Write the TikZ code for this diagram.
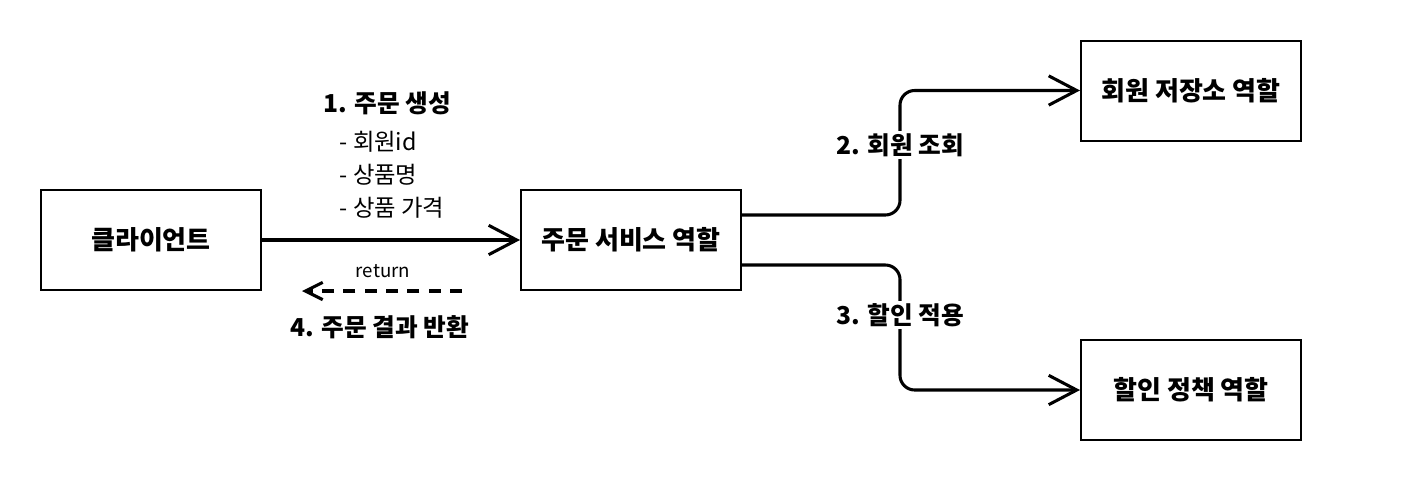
\documentclass[tikz,border=0pt]{standalone}
\usepackage{fontspec}
\setmainfont{Noto Sans CJK KR}
\usetikzlibrary{arrows.meta}

\begin{document}
\begin{tikzpicture}[x=0.75pt, y=-0.75pt,
  role/.style={draw, line width=1.5pt, minimum width=165pt, minimum height=75pt, font=\fontsize{19.5}{23}\selectfont\bfseries},
  call/.style={line width=2.3pt, -{Straight Barb[length=21pt, width=22pt, line width=2.3pt]}},
  lbl/.style={font=\fontsize{18.5}{22}\selectfont\bfseries}]
\useasboundingbox (0,0) rectangle (1402,482);
\node[role] (client) at (151,240) {클라이언트};
\node[role] (service) at (631,240) {주문 서비스 역할};
\node[role] (member) at (1191,90.5) {회원 저장소 역할};
\node[role] (discount) at (1191,390) {할인 정책 역할};

% client -> service
\draw[call] (client) -- (service);
\node[lbl] (create) at (387,103) {1. 주문 생성};
\node[anchor=north west, align=left, font=\fontsize{17.5}{24.75}\selectfont] (params) at (335,126) {- 회원id\\- 상품명\\- 상품 가격};

% return
\coordinate (retstart) at (462,291);
\coordinate (retend) at (302,291);
\draw[line width=2.3pt, dash pattern=on 9pt off 7pt, -{Straight Barb[length=13pt, width=13pt, line width=2.3pt]}] (retstart) -- (retend);
\node[font=\fontsize{14}{16}\selectfont] (ret) at (383,271) {return};
\node[lbl] (result) at (380,327) {4. 주문 결과 반환};

% service -> roles
\draw[call, rounded corners=11pt] ([yshift=18.75pt]service.east) -- (900,215) |- (member.west);
\draw[call, rounded corners=11pt] ([yshift=-18.75pt]service.east) -- (900,265) |- (discount.west);
\node[lbl, fill=white, inner sep=2pt] (lookup) at (900,145) {2. 회원 조회};
\node[lbl, fill=white, inner sep=2pt] (apply) at (900,315) {3. 할인 적용};
\end{tikzpicture}
\end{document}
